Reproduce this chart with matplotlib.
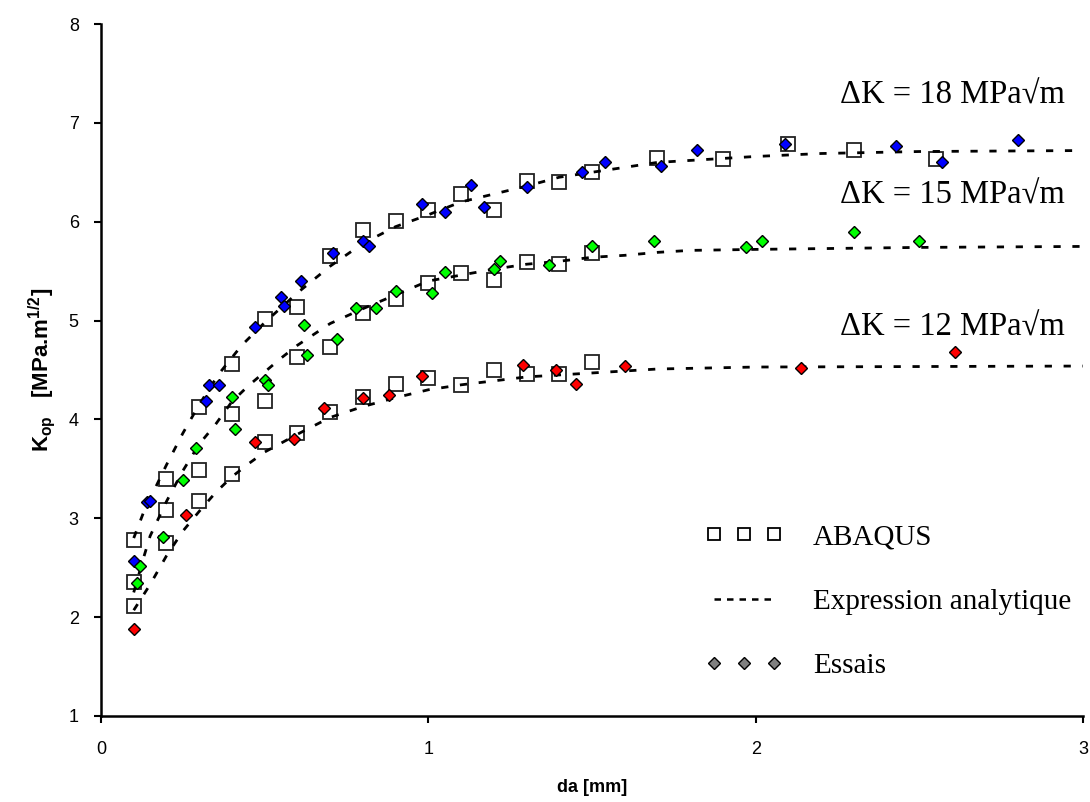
import matplotlib
matplotlib.use("Agg")
import matplotlib.pyplot as plt
from matplotlib.lines import Line2D

plt.rcParams['font.family'] = ['Liberation Sans', 'DejaVu Sans']
plt.rcParams['mathtext.default'] = 'regular'

# ---------------- data ----------------
# ABAQUS (open squares)
abq_x_18 = [0.1, 0.2, 0.3, 0.4, 0.5, 0.6, 0.7, 0.8, 0.9, 1.0, 1.1, 1.2, 1.3, 1.4, 1.5, 1.7, 1.9, 2.1, 2.3, 2.55]
abq_y_18 = [2.78, 3.40, 4.13, 4.56, 5.02, 5.14, 5.65, 5.92, 6.01, 6.12, 6.28, 6.12, 6.41, 6.40, 6.50, 6.64, 6.63, 6.79, 6.73, 6.63]
abq_x_15 = [0.1, 0.2, 0.3, 0.4, 0.5, 0.6, 0.7, 0.8, 0.9, 1.0, 1.1, 1.2, 1.3, 1.4, 1.5]
abq_y_15 = [2.36, 3.08, 3.49, 4.05, 4.19, 4.63, 4.73, 5.08, 5.22, 5.38, 5.48, 5.41, 5.59, 5.57, 5.68]
abq_x_12 = [0.1, 0.2, 0.3, 0.4, 0.5, 0.6, 0.7, 0.8, 0.9, 1.0, 1.1, 1.2, 1.3, 1.4, 1.5]
abq_y_12 = [2.11, 2.75, 3.17, 3.45, 3.77, 3.86, 4.08, 4.23, 4.36, 4.42, 4.35, 4.50, 4.46, 4.46, 4.58]

# Analytical expression (dashed curves)
ana_x_18 = [0.1, 0.13, 0.175, 0.2, 0.25, 0.3, 0.36, 0.43, 0.5, 0.6, 0.7, 0.8, 0.9, 1.0, 1.1, 1.2, 1.3, 1.4, 1.5, 1.6, 1.7, 1.8, 2.0, 2.2, 2.5, 3.0]
ana_y_18 = [2.80, 3.06, 3.37, 3.54, 3.86, 4.15, 4.46, 4.75, 4.98, 5.28, 5.55, 5.78, 5.95, 6.07, 6.20, 6.28, 6.36, 6.45, 6.50, 6.55, 6.60, 6.62, 6.66, 6.69, 6.71, 6.72]
ana_x_15 = [0.1, 0.13, 0.15, 0.2, 0.25, 0.3, 0.35, 0.4, 0.45, 0.5, 0.55, 0.6, 0.7, 0.8, 0.9, 1.0, 1.1, 1.2, 1.3, 1.4, 1.5, 1.6, 1.7, 1.8, 2.0, 2.5, 3.0]
ana_y_15 = [2.25, 2.60, 2.82, 3.17, 3.48, 3.75, 3.95, 4.18, 4.34, 4.48, 4.62, 4.75, 4.97, 5.12, 5.26, 5.40, 5.46, 5.52, 5.57, 5.60, 5.64, 5.66, 5.69, 5.71, 5.72, 5.74, 5.75]
ana_x_12 = [0.1, 0.15, 0.2, 0.25, 0.3, 0.35, 0.4, 0.45, 0.5, 0.6, 0.7, 0.8, 0.9, 1.0, 1.1, 1.2, 1.3, 1.4, 1.5, 1.6, 1.7, 2.0, 3.0]
ana_y_12 = [2.07, 2.33, 2.62, 2.87, 3.07, 3.26, 3.42, 3.55, 3.67, 3.85, 4.02, 4.13, 4.22, 4.30, 4.35, 4.39, 4.43, 4.45, 4.47, 4.49, 4.51, 4.53, 4.54]

# Experiments (diamonds)
exp_x_18 = [0.10, 0.14, 0.15, 0.32, 0.33, 0.36, 0.47, 0.55, 0.56, 0.61, 0.71, 0.80, 0.82, 0.98, 1.05, 1.13, 1.17, 1.30, 1.47, 1.54, 1.71, 1.82, 2.09, 2.43, 2.57, 2.80]
exp_y_18 = [2.57, 3.16, 3.17, 4.19, 4.35, 4.35, 4.94, 5.24, 5.15, 5.40, 5.68, 5.80, 5.75, 6.18, 6.10, 6.37, 6.15, 6.35, 6.50, 6.60, 6.56, 6.73, 6.79, 6.77, 6.60, 6.83]
exp_x_15 = [0.11, 0.12, 0.19, 0.25, 0.29, 0.40, 0.41, 0.50, 0.51, 0.62, 0.63, 0.72, 0.78, 0.84, 0.90, 1.01, 1.05, 1.20, 1.22, 1.37, 1.50, 1.69, 1.97, 2.02, 2.30, 2.50]
exp_y_15 = [2.35, 2.52, 2.81, 3.39, 3.71, 4.23, 3.90, 4.40, 4.35, 4.96, 4.65, 4.81, 5.13, 5.13, 5.30, 5.28, 5.49, 5.52, 5.60, 5.56, 5.75, 5.80, 5.74, 5.80, 5.90, 5.80]
exp_x_12 = [0.10, 0.26, 0.47, 0.59, 0.68, 0.80, 0.88, 0.98, 1.29, 1.39, 1.45, 1.60, 2.14, 2.61]
exp_y_12 = [1.88, 3.03, 3.77, 3.80, 4.12, 4.22, 4.25, 4.44, 4.55, 4.50, 4.36, 4.54, 4.52, 4.68]

labels_dk = ["\u0394K = 18 MPa\u221am", "\u0394K = 15 MPa\u221am", "\u0394K = 12 MPa\u221am"]
label_x = [2.945, 2.945, 2.945]
label_y = [7.28, 6.27, 4.93]

x_ticks = [0, 1, 2, 3]
y_ticks = [1, 2, 3, 4, 5, 6, 7, 8]

# ---------------- figure ----------------
fig = plt.figure(figsize=(10.9, 8.02), dpi=100)
ax = fig.add_axes([101 / 1090, 86 / 802, 982 / 1090, 692 / 802])

sq_kw = dict(ls='none', marker='s', ms=9.5, mfc='none', mec='#222222', mew=1.3, zorder=2)
for xs, ys in [(abq_x_18, abq_y_18), (abq_x_15, abq_y_15), (abq_x_12, abq_y_12)]:
    ax.plot(xs, ys, **sq_kw)

ln_kw = dict(color='black', lw=2.0, dashes=(2.6, 4.2), zorder=3)
for xs, ys in [(ana_x_18, ana_y_18), (ana_x_15, ana_y_15), (ana_x_12, ana_y_12)]:
    ax.plot(xs, ys, **ln_kw)

dm_kw = dict(ls='none', marker='D', ms=6.0, mec='black', mew=1.0, zorder=4)
for xs, ys, c in [(exp_x_18, exp_y_18, '#0000FF'), (exp_x_15, exp_y_15, '#00FF00'), (exp_x_12, exp_y_12, '#FF0000')]:
    ax.plot(xs, ys, mfc=c, **dm_kw)

serif = ['Liberation Serif', 'DejaVu Serif']
for t, xv, yv in zip(labels_dk, label_x, label_y):
    ax.text(xv, yv, t, ha='right', va='center', fontsize=23.5, family=serif)

ax.set_xlim(0, 3)
ax.set_ylim(1, 8)
ax.set_xticks(x_ticks)
ax.set_yticks(y_ticks)
ax.tick_params(axis='both', direction='out', length=5, width=1.5, labelsize=13)
ax.tick_params(axis='x', pad=13)
ax.tick_params(axis='y', pad=11)
for s in ['top', 'right']:
    ax.spines[s].set_visible(False)
for s in ['left', 'bottom']:
    ax.spines[s].set_linewidth(1.8)

ax.set_xlabel('da [mm]', fontsize=13, fontweight='bold', labelpad=15)
ax.set_ylabel(r'K$_{op}$   [MPa.m$^{1/2}$]', fontsize=16, fontweight='bold', labelpad=8)

handles = [
    Line2D([0], [0], ls='none', marker='s', ms=9, mfc='none', mec='black', mew=1.3),
    Line2D([0], [0], color='black', lw=1.8, dashes=(2.6, 2.4)),
    Line2D([0], [0], ls='none', marker='D', ms=6.5, mfc='#808080', mec='black', mew=1.0),
]
leg = ax.legend(handles, ['ABAQUS', 'Expression analytique', 'Essais'],
                loc='upper left', bbox_to_anchor=(0.589, 0.315), numpoints=3,
                frameon=False, prop={'family': serif, 'size': 21},
                handlelength=2.63, handletextpad=1.05, labelspacing=1.29)

fig.savefig('out.png', dpi=100)
